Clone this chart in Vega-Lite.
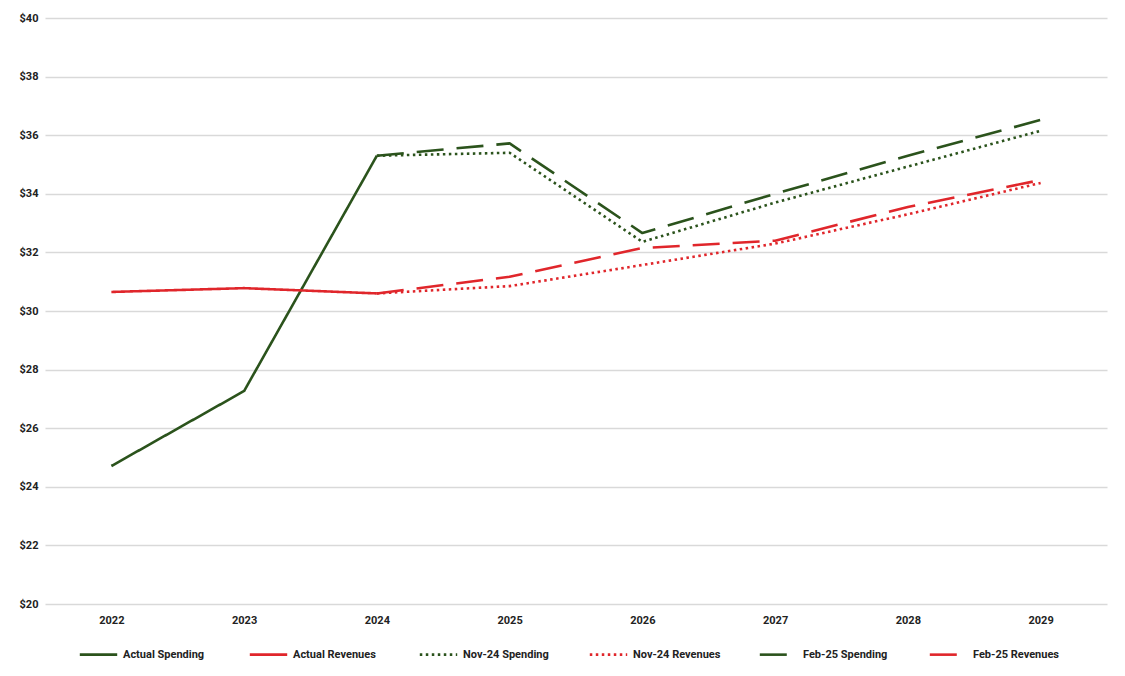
{
  "$schema": "https://vega.github.io/schema/vega-lite/v6.json",
  "width": 1062,
  "height": 586,
  "autosize": {"type": "none"},
  "padding": {"left": 45, "top": 18, "right": 18, "bottom": 72},
  "background": "white",
  "config": {
    "view": {"stroke": null},
    "font": "Roboto",
    "axis": {"labelFont": "Roboto", "labelFontWeight": "bold", "labelFontSize": 11, "labelColor": "#222222"},
    "legend": {"labelFont": "Roboto", "labelFontWeight": "bold", "labelFontSize": 11, "labelColor": "#222222"}
  },
  "data": {
    "values": [
      {"year": "2022", "series": "Actual Spending", "value": 24.71},
      {"year": "2023", "series": "Actual Spending", "value": 27.27},
      {"year": "2024", "series": "Actual Spending", "value": 35.3},
      {"year": "2022", "series": "Actual Revenues", "value": 30.65},
      {"year": "2023", "series": "Actual Revenues", "value": 30.78},
      {"year": "2024", "series": "Actual Revenues", "value": 30.6},
      {"year": "2024", "series": "Nov-24 Spending", "value": 35.3},
      {"year": "2025", "series": "Nov-24 Spending", "value": 35.4},
      {"year": "2026", "series": "Nov-24 Spending", "value": 32.36},
      {"year": "2027", "series": "Nov-24 Spending", "value": 33.7},
      {"year": "2028", "series": "Nov-24 Spending", "value": 34.93},
      {"year": "2029", "series": "Nov-24 Spending", "value": 36.15},
      {"year": "2024", "series": "Nov-24 Revenues", "value": 30.6},
      {"year": "2025", "series": "Nov-24 Revenues", "value": 30.85},
      {"year": "2026", "series": "Nov-24 Revenues", "value": 31.57},
      {"year": "2027", "series": "Nov-24 Revenues", "value": 32.3},
      {"year": "2028", "series": "Nov-24 Revenues", "value": 33.3},
      {"year": "2029", "series": "Nov-24 Revenues", "value": 34.37},
      {"year": "2024", "series": "Feb-25 Spending", "value": 35.3},
      {"year": "2025", "series": "Feb-25 Spending", "value": 35.72},
      {"year": "2026", "series": "Feb-25 Spending", "value": 32.66},
      {"year": "2027", "series": "Feb-25 Spending", "value": 34.0},
      {"year": "2028", "series": "Feb-25 Spending", "value": 35.3},
      {"year": "2029", "series": "Feb-25 Spending", "value": 36.52},
      {"year": "2024", "series": "Feb-25 Revenues", "value": 30.6},
      {"year": "2025", "series": "Feb-25 Revenues", "value": 31.17},
      {"year": "2026", "series": "Feb-25 Revenues", "value": 32.15},
      {"year": "2027", "series": "Feb-25 Revenues", "value": 32.4},
      {"year": "2028", "series": "Feb-25 Revenues", "value": 33.55},
      {"year": "2029", "series": "Feb-25 Revenues", "value": 34.47}
    ]
  },
  "mark": {"type": "line", "strokeCap": "butt", "strokeJoin": "round"},
  "encoding": {
    "x": {
      "field": "year", "type": "ordinal",
      "scale": {"type": "point", "padding": 0.5},
      "axis": {"title": null, "labelAngle": 0, "domain": false, "ticks": false, "grid": false, "labelPadding": 10}
    },
    "y": {
      "field": "value", "type": "quantitative",
      "scale": {"domain": [20, 40], "nice": false, "zero": false},
      "axis": {"title": null, "values": [20, 22, 24, 26, 28, 30, 32, 34, 36, 38, 40], "labelExpr": "'$' + datum.value", "domain": false, "ticks": false, "gridColor": "#d9d9d9", "gridWidth": 1.5, "labelPadding": 7}
    },
    "color": {
      "field": "series", "type": "nominal",
      "scale": {
        "domain": ["Actual Spending", "Actual Revenues", "Nov-24 Spending", "Nov-24 Revenues", "Feb-25 Spending", "Feb-25 Revenues"],
        "range": ["#2b531c", "#e0262b", "#2b531c", "#e0262b", "#2b531c", "#e0262b"]
      },
      "legend": {
        "title": null, "orient": "none", "legendX": 33, "legendY": 616,
        "direction": "horizontal", "columns": 6, "gridAlign": "all",
        "symbolType": "stroke", "symbolSize": 1400, "symbolStrokeWidth": 3,
        "columnPadding": 33, "labelOffset": 4
      }
    },
    "strokeDash": {
      "field": "series", "type": "nominal",
      "scale": {
        "domain": ["Actual Spending", "Actual Revenues", "Nov-24 Spending", "Nov-24 Revenues", "Feb-25 Spending", "Feb-25 Revenues"],
        "range": [[1, 0], [1, 0], [2.5, 3.5], [2.5, 3.5], [27, 13], [27, 13]]
      },
      "legend": null
    },
    "strokeWidth": {
      "field": "series", "type": "nominal",
      "scale": {
        "domain": ["Actual Spending", "Actual Revenues", "Nov-24 Spending", "Nov-24 Revenues", "Feb-25 Spending", "Feb-25 Revenues"],
        "range": [2.6, 2.6, 2.6, 2.6, 3.6, 3.6]
      },
      "legend": null
    }
  }
}
